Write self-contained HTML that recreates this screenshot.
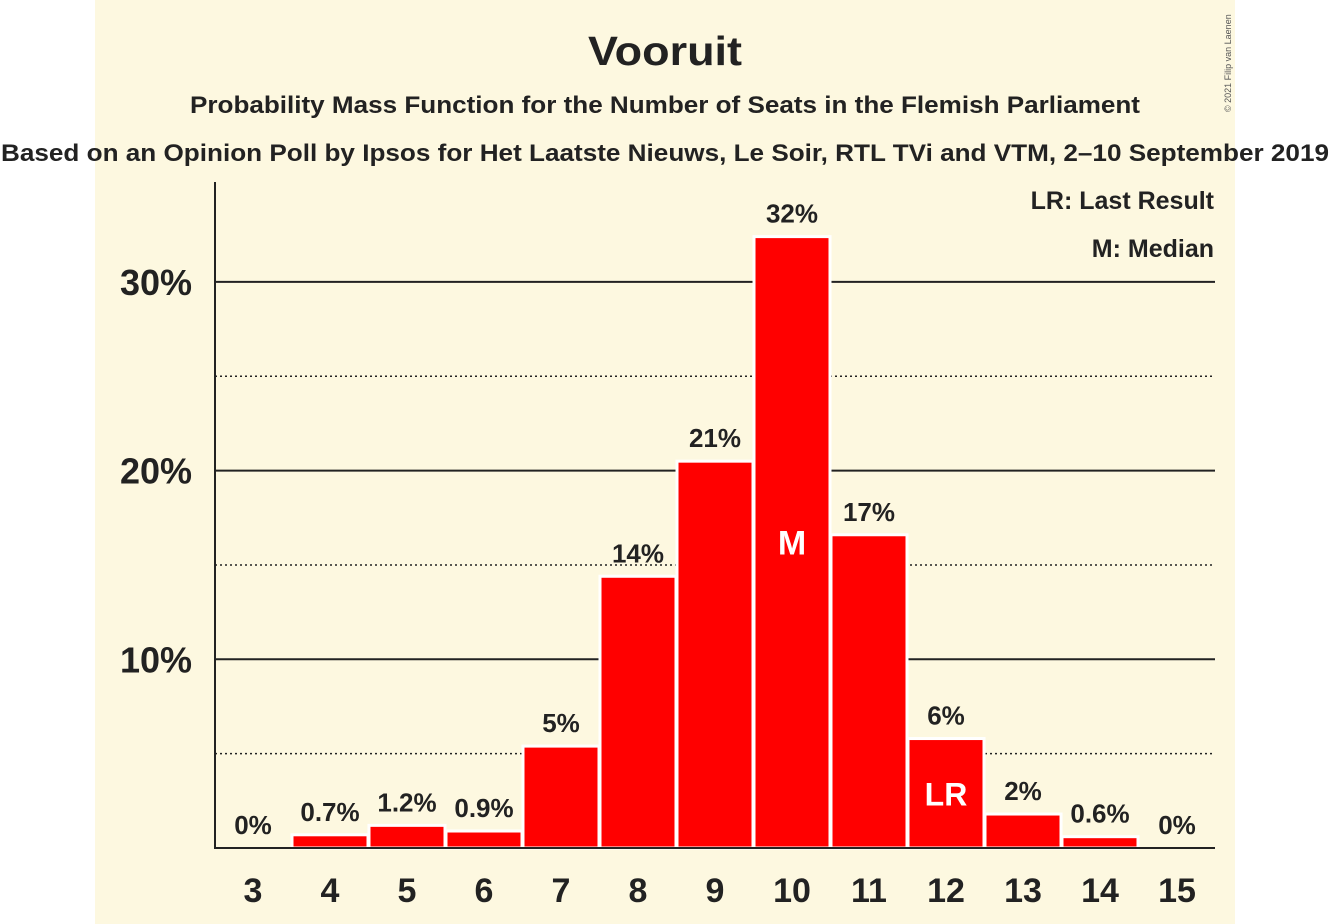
<!DOCTYPE html>
<html><head><meta charset="utf-8"><style>
body{margin:0;background:#fff;}
svg{display:block;font-family:"Liberation Sans",sans-serif;}
</style></head><body>
<svg width="1331" height="924">
<rect x="95" y="0" width="1140" height="924" fill="#fdf8e0"/>
<text x="665" y="65" text-anchor="middle" font-size="41" font-weight="bold" fill="#222" textLength="154" lengthAdjust="spacingAndGlyphs">Vooruit</text>
<text x="665" y="113" text-anchor="middle" font-size="24" font-weight="bold" fill="#222" textLength="950" lengthAdjust="spacingAndGlyphs">Probability Mass Function for the Number of Seats in the Flemish Parliament</text>
<text x="665" y="161" text-anchor="middle" font-size="24" font-weight="bold" fill="#222" textLength="1328" lengthAdjust="spacingAndGlyphs">Based on an Opinion Poll by Ipsos for Het Laatste Nieuws, Le Soir, RTL TVi and VTM, 2–10 September 2019</text>
<text transform="translate(1231,112) rotate(-90)" font-size="9" fill="#555">© 2021 Filip van Laenen</text>
<text x="1214" y="209" text-anchor="end" font-size="25" font-weight="bold" fill="#222">LR: Last Result</text>
<text x="1214" y="257" text-anchor="end" font-size="25" font-weight="bold" fill="#222">M: Median</text>
<g id="grid"></g>
<g id="bars"></g>
<line x1="215" y1="182" x2="215" y2="849" stroke="#222" stroke-width="2"/>
<line x1="215" y1="848" x2="1215" y2="848" stroke="#222" stroke-width="2"/>
<g id="labels"></g>
</svg>
<script>
const seats=[3,4,5,6,7,8,9,10,11,12,13,14,15];
const probs=[0,0.7,1.2,0.9,5.4,14.4,20.5,32.4,16.6,5.8,1.8,0.6,0];
const valueLabels=["0%","0.7%","1.2%","0.9%","5%","14%","21%","32%","17%","6%","2%","0.6%","0%"];
const yTicks=[10,20,30];
const yMinor=[5,15,25];
const medianSeat=10, lastResultSeat=12;
const NS="http://www.w3.org/2000/svg";
const y=v=>848-v*18.87;
const x=s=>253+(s-3)*77;
function mk(t,a,p){const e=document.createElementNS(NS,t);for(const k in a)e.setAttribute(k,a[k]);p.appendChild(e);return e;}
const grid=document.getElementById('grid'),bars=document.getElementById('bars'),labels=document.getElementById('labels');
yTicks.forEach(v=>{
 const l=mk('line',{x1:215,x2:1215,y1:y(v),y2:y(v),stroke:'#222','stroke-width':2},grid);
 
 
 const t=mk('text',{x:192,y:y(v)+13,'text-anchor':'end','font-size':36,'font-weight':'bold',fill:'#222'},grid);
 t.textContent=v+'%';
 
 
});
yMinor.forEach(v=>{
 const l=mk('line',{x1:215,x2:1215,y1:y(v),y2:y(v),stroke:'#222','stroke-width':1.5,'stroke-dasharray':'2,3'},grid);
 
 
});
seats.forEach((s,i)=>{
 const p=probs[i];
 if(p>0){
  const r=mk('rect',{x:x(s)-38,y:y(p),width:76,height:848-y(p),fill:'#ff0000',stroke:'#fff','stroke-width':3},bars);
  
  
 }
 const t=mk('text',{x:x(s),y:y(p)-14,'text-anchor':'middle','font-size':26,'font-weight':'bold',fill:'#222'},labels);
 t.textContent=valueLabels[i];
 
 
 const xl=mk('text',{x:x(s),y:902,'text-anchor':'middle','font-size':34,'font-weight':'bold',fill:'#222'},labels);
 xl.textContent=s;
 
 
 if(s===medianSeat){
  const m=mk('text',{x:x(s),y:y(p/2)+12,'text-anchor':'middle','font-size':34,'font-weight':'bold',fill:'#fff'},labels);
  m.textContent='M';
  
  
 }
 if(s===lastResultSeat){
  const m=mk('text',{x:x(s),y:y(p/2)+12,'text-anchor':'middle','font-size':32,'font-weight':'bold',fill:'#fff'},labels);
  m.textContent='LR';
  
  
 }
});
</script>
</body></html>
